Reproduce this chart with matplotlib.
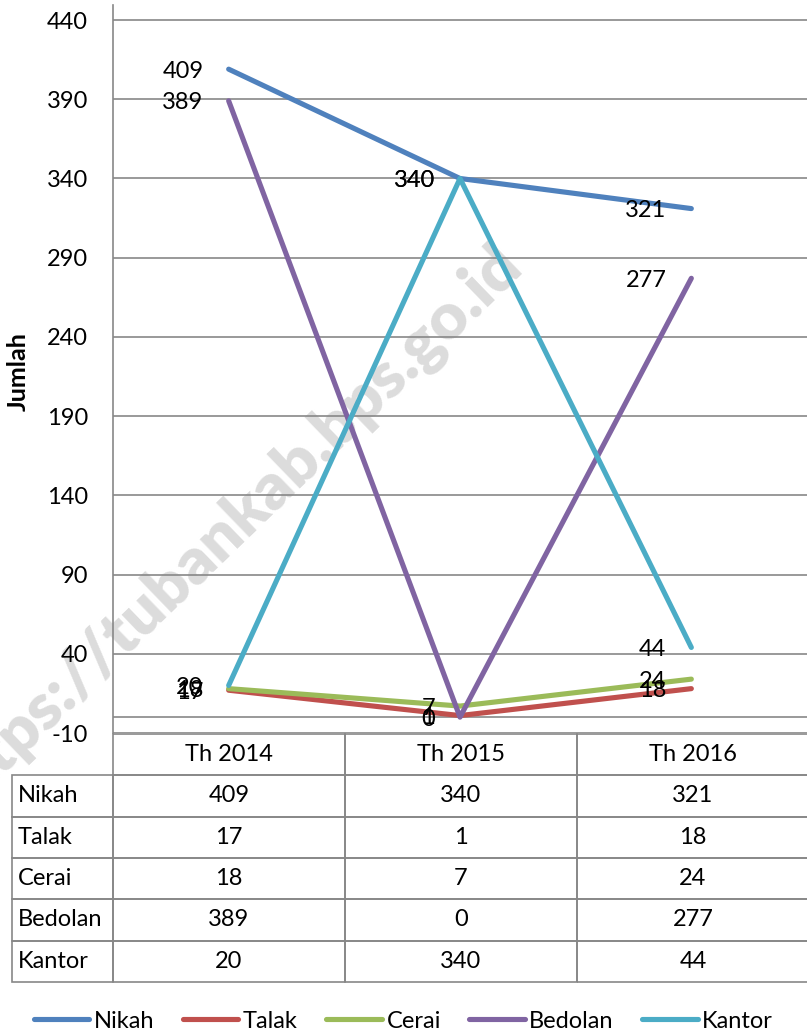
#!/usr/bin/env python3

import numpy as np
import matplotlib
matplotlib.use('Agg')
import matplotlib.pyplot as plt

plt.rcParams['font.family'] = ['Lato', 'DejaVu Sans']
plt.rcParams['axes.unicode_minus'] = False

years = ['Th 2014', 'Th 2015', 'Th 2016']
series = ['Nikah', 'Talak', 'Cerai', 'Bedolan', 'Kantor']
nikah = [409, 340, 321]
talak = [17, 1, 18]
cerai = [18, 7, 24]
bedolan = [389, 0, 277]
kantor = [20, 340, 44]
colors = ['#4F81BD', '#C0504D', '#9BBB59', '#8064A2', '#4BACC6']

W, H = 807, 1033
GRID = '#878787'
FS = 17


def main():
    fig = plt.figure(figsize=(W / 100, H / 100), dpi=100)

    # watermark, behind everything
    fig.text(228 / W, 1 - 530 / H, 'https://tubankab.bps.go.id', rotation=44,
             ha='center', va='center', fontsize=47, fontweight='heavy',
             color='#dcdcdc', zorder=-1)

    ax = fig.add_axes([113 / W, 1 - 733 / H, (W - 113) / W, (733 - 5) / H])
    ax.patch.set_alpha(0)

    x = np.arange(len(years))
    all_vals = [nikah, talak, cerai, bedolan, kantor]
    for name, vals, c in zip(series, all_vals, colors):
        ax.plot(x, vals, color=c, lw=3.7, solid_capstyle='round', label=name, zorder=3)
    for vals in all_vals:
        for xi, v in zip(x, vals):
            ax.annotate(str(v), (xi, v), xytext=(-25, -2), textcoords='offset pixels',
                        ha='right', va='center', fontsize=FS, zorder=5)

    ax.set_xlim(-0.5, 2.5)
    ax.set_ylim(-10, 449.5)
    ax.set_yticks(range(-10, 441, 50))
    ax.set_xticks([])
    ax.grid(axis='y', color=GRID, lw=1.2)
    ax.axhline(0, color=GRID, lw=1.2, zorder=1)
    ax.set_axisbelow(True)
    ax.tick_params(axis='y', length=0, pad=18, labelsize=FS)
    for s in ['top', 'right', 'bottom']:
        ax.spines[s].set_visible(False)
    ax.spines['left'].set_color(GRID)
    ax.spines['left'].set_linewidth(1.2)

    fig.text(18 / W, 1 - 372 / H, 'Jumlah', rotation=90, ha='center', va='center',
             fontsize=18, fontweight='bold')

    # data table under the plot
    tax = fig.add_axes([12 / W, 1 - 982 / H, (809 - 12) / W, (982 - 734) / H])
    tax.axis('off')
    cell_text = [[name] + [str(v) for v in vals] for name, vals in zip(series, all_vals)]
    first = (113 - 12) / 797
    rest = (1 - first) / 3
    tbl = tax.table(cellText=cell_text, colLabels=[''] + years,
                    colWidths=[first, rest, rest, rest], bbox=[0, 0, 1, 1],
                    cellLoc='center')
    tbl.auto_set_font_size(False)
    tbl.set_fontsize(FS)
    for (r, c), cell in tbl.get_celld().items():
        cell.set_edgecolor(GRID)
        cell.set_linewidth(1.2)
        cell.set_facecolor('none')
        if c == 0:
            cell._loc = 'left'
            cell.get_text().set_horizontalalignment('left')
            cell.PAD = 0.06
    tbl[0, 0].visible_edges = 'open'

    fig.legend(*ax.get_legend_handles_labels(), loc='center',
               bbox_to_anchor=(0.5, 1 - 1021 / H), ncol=5, frameon=False,
               fontsize=FS, handlelength=2.35, handletextpad=0.2, columnspacing=1.2)

    fig.savefig('out.png', dpi=100)


if __name__ == '__main__':
    main()
